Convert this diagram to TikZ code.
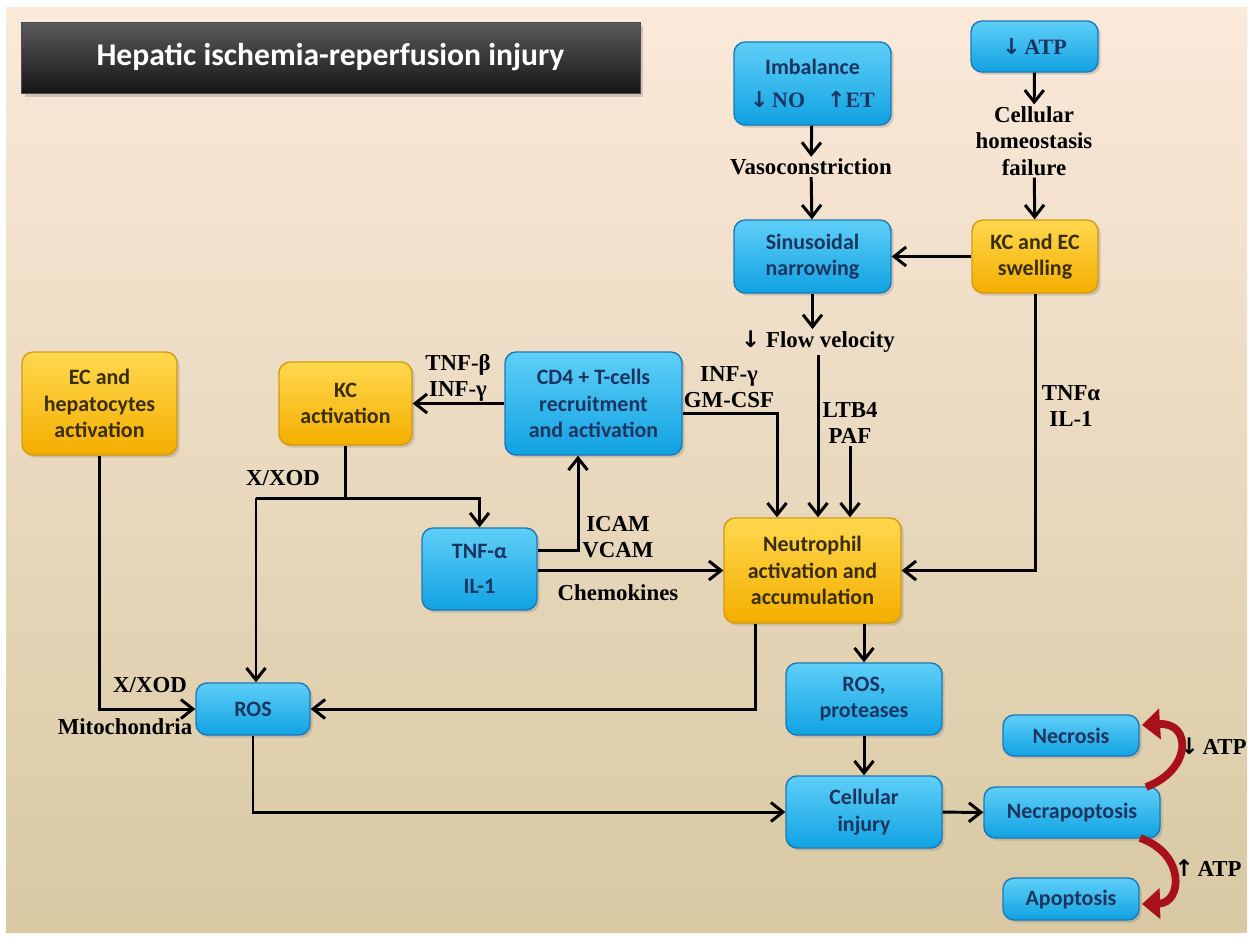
\documentclass[tikz,border=0pt]{standalone}
\usepackage{fontspec}
\setmainfont{Carlito}
\newfontfamily\lblserif{Liberation Serif}
\newfontfamily\arrowfont{DejaVu Sans}
\usetikzlibrary{arrows.meta, shadows}
\definecolor{bgtop}{HTML}{FBE9DA}
\definecolor{bgmid}{HTML}{F2E5CF}
\definecolor{bgbot}{HTML}{D8C9A3}
\definecolor{bluetop}{HTML}{5FCFF8}
\definecolor{bluebot}{HTML}{10A2E2}
\definecolor{blueline}{HTML}{1C78B8}
\definecolor{orangetop}{HTML}{FFD84E}
\definecolor{orangebot}{HTML}{F4AE00}
\definecolor{orangeline}{HTML}{D39A10}
\definecolor{navytext}{HTML}{1C3560}
\definecolor{browntext}{HTML}{3A2E08}
\definecolor{titletop}{HTML}{5A5A5A}
\definecolor{titlebot}{HTML}{161616}
\definecolor{arcred}{HTML}{A8101A}
\newcommand\boxfont{\fontsize{12.5}{15}\selectfont\bfseries}
\newcommand\lblfont{\lblserif\fontsize{13}{15}\selectfont\bfseries}
\newcommand\dn{{\arrowfont\bfseries ↓}}
\newcommand\up{{\arrowfont\bfseries ↑}}

\begin{document}
\begin{tikzpicture}[x=0.02cm,y=-0.02cm]
						\tikzstyle{box} = [rectangle,rounded corners=0.22cm,draw=blueline,line width=0.8pt,top color=bluetop,bottom color=bluebot,text=navytext,font=\boxfont,align=center,inner sep=2pt,drop shadow={shadow xshift=1.5pt,shadow yshift=-1.5pt,opacity=0.3}]
						\tikzstyle{box2} = [box,draw=orangeline,top color=orangetop,bottom color=orangebot,text=browntext]
						\tikzstyle{lbl} = [font=\lblfont,align=center,inner sep=1pt]
						\tikzstyle{edge} = [-{Straight Barb[length=2.4mm,width=3.8mm]},line width=1.7pt]
						\tikzstyle{edge2} = [-,line width=1.7pt]
						\tikzstyle{redarc} = [-{Triangle[length=3.6mm,width=6mm]},line width=4.4pt,draw=arcred]
						\useasboundingbox (0,0) rectangle (1253,938);
						\fill[white] (0,0) rectangle (1253,938);
						\shade[top color=bgtop,middle color=bgmid,bottom color=bgbot] (6,7) rectangle (1247,932);
						\node[rectangle,draw=black!70,top color=titletop,bottom color=titlebot,text=white,font=\fontsize{18}{20}\selectfont\bfseries,minimum width=12.38cm,minimum height=1.42cm,drop shadow={shadow xshift=2pt,shadow yshift=-2pt,opacity=0.35}] (n0) at (330.5,57.5) {Hepatic ischemia-reperfusion injury};
						\node[box,minimum width=3.14cm,minimum height=1.66cm] (n1) at (812.5,83.5) {Imbalance\\[4pt]{\lblserif\fontsize{12.5}{15}\selectfont \dn\,NO\quad\up ET}};
						\node[box,minimum width=2.54cm,minimum height=1.02cm] (n2) at (1034.5,46.5) {\lblserif\fontsize{12.5}{15}\selectfont \dn\,ATP};
						\node[lbl] (n3) at (1034,141) {Cellular\\homeostasis\\failure};
						\node[lbl] (n4) at (811,167) {Vasoconstriction};
						\node[box,minimum width=3.14cm,minimum height=1.46cm] (n5) at (812.5,256.5) {Sinusoidal\\narrowing};
						\node[box2,minimum width=2.52cm,minimum height=1.46cm] (n6) at (1035,256.5) {KC and EC\\swelling};
						\node[lbl] (n7) at (818,342) {\dn\ Flow velocity};
						\node[box2,minimum width=3.54cm,minimum height=2.1cm] (n8) at (812.5,570.5) {Neutrophil\\activation and\\accumulation};
						\node[box,minimum width=3.54cm,minimum height=2.06cm] (n9) at (593.5,403.5) {CD4 + T-cells\\recruitment\\and activation};
						\node[box2,minimum width=2.66cm,minimum height=1.66cm] (n10) at (345.5,403.5) {KC\\activation};
						\node[box2,minimum width=3.1cm,minimum height=2.06cm] (n11) at (99.5,403.5) {EC and\\hepatocytes\\activation};
						\node[box,minimum width=2.3cm,minimum height=1.64cm] (n12) at (479.5,569) {TNF-α\\[5pt]IL-1};
						\node[box,minimum width=2.28cm,minimum height=1.04cm] (n13) at (253,709) {ROS};
						\node[box,minimum width=3.12cm,minimum height=1.44cm] (n14) at (864,699) {ROS,\\proteases};
						\node[box,minimum width=3.12cm,minimum height=1.44cm] (n15) at (864,812) {Cellular\\injury};
						\node[box,minimum width=3.52cm,minimum height=1.02cm] (n16) at (1072,812.5) {Necrapoptosis};
						\node[box,minimum width=2.72cm,minimum height=0.82cm] (n17) at (1071,735.5) {Necrosis};
						\node[box,minimum width=2.72cm,minimum height=0.84cm] (n18) at (1071,899) {Apoptosis};
						\node[lbl] (n19) at (1071,406) {TNFα\\IL-1};
						\node[lbl] (n20) at (850,423) {LTB4\\PAF};
						\node[lbl] (n21) at (729,387) {INF-γ\\GM-CSF};
						\node[lbl] (n22) at (458,378) {TNF-β\\INF-γ};
						\node[lbl] (n23) at (283,478) {X/XOD};
						\node[lbl] (n24) at (618,537) {ICAM\\VCAM};
						\node[lbl] (n25) at (618,593) {Chemokines};
						\node[lbl] (n26) at (150,685) {X/XOD};
						\node[lbl] (n27) at (125,727) {Mitochondria};
						\node[lbl] (n28) at (1213,746) {\dn\,ATP};
						\node[lbl] (n29) at (1208,868) {\up\,ATP};
						\coordinate (c1) at (777,413);
						\coordinate (c2) at (256,498);
						\coordinate (c3) at (479.5,498);
						\coordinate (c4) at (578,550);
						\coordinate (c5) at (755,709);
						\coordinate (a1) at (1146,787);
						\coordinate (a2) at (1142,725);
						\coordinate (a3) at (1140,838);
						\coordinate (a4) at (1142,904);
						\draw[edge] (n1)--(n4);
						\draw[edge] (n4)--(n5);
						\draw[edge] (n2)--(n3);
						\draw[edge] (n3)--(n6);
						\draw[edge] (n6)--(n5);
						\draw[edge] (n5.south)--(n5.south |- n7.north);
						\draw[edge] (n7.south)--(n7.south |- n8.north);
						\draw[edge] (n6.south) |- (n8.east);
						\draw[edge] (n20)--(n20 |- n8.north);
						\draw[edge] (n9.east |- c1)--(c1)--(c1 |- n8.north);
						\draw[edge] (n9.west)--(n10.east);
						\draw[edge2] (n10.south)--(n10.south |- c2);
						\draw[edge] (c2)--(c3)--(n12.north);
						\draw[edge] (c2)--(c2 |- n13.north);
						\draw[edge] (n12.east |- c4)--(c4)--(c4 |- n9.south);
						\draw[edge] (n12.east |- n8.west)--(n8.west);
						\draw[edge] (n11.south) |- (n13.west);
						\draw[edge] (c5 |- n8.south) |- (n13.east);
						\draw[edge] (n13.south) |- (n15.west);
						\draw[edge] (n14.north |- n8.south)--(n14.north);
						\draw[edge] (n14)--(n15);
						\draw[edge] (n15)--(n16);
						\draw[redarc] (a1) .. controls (1192,770) and (1192,722) .. (a2);
						\draw[redarc] (a3) .. controls (1186,854) and (1182,903) .. (a4);
						\end{tikzpicture}
\end{document}
